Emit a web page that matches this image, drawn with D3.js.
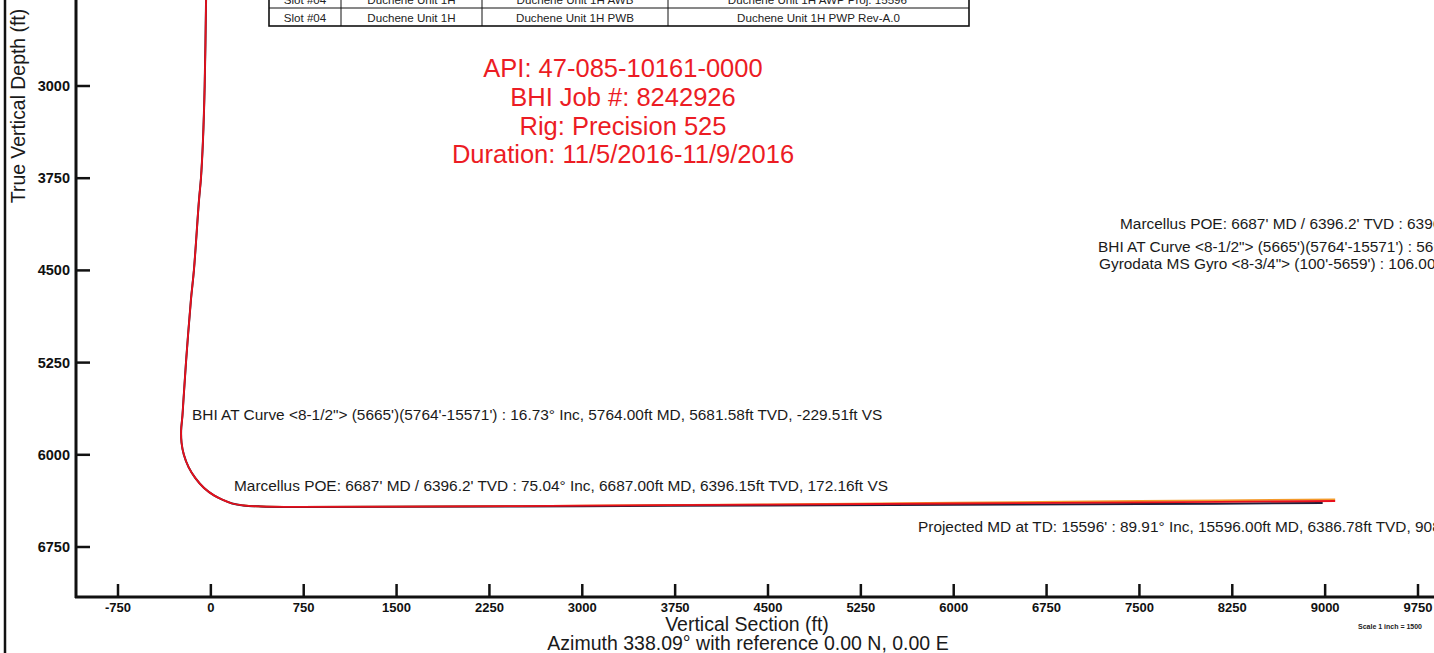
<!DOCTYPE html>
<html>
<head>
<meta charset="utf-8">
<script src="https://cdn.jsdelivr.net/npm/d3@7"></script>
<style>
  html, body { margin: 0; padding: 0; background: #fff; overflow: hidden; }
  svg { display: block; }
  text { font-family: "Liberation Sans", Arial, sans-serif; }
</style>
</head>
<body>
<div id="chart"></div>
<script>
// Well profile: vertical section vs true vertical depth

// axis ticks
var xTicks = [-750, 0, 750, 1500, 2250, 3000, 3750, 4500, 5250, 6000, 6750, 7500, 8250, 9000, 9750];
var yTicks = [2250, 3000, 3750, 4500, 5250, 6000, 6750];

// actual survey (red)
var actualVS  = [-38, -50, -64, -80, -96, -137, -161, -201, -221, -229.5, -240, -237, -218, -180, -125, -55, 25, 100, 172.2, 260, 400, 700, 1500, 3000, 4500, 6000, 7500, 9081];
var actualTVD = [2250, 3000, 3450, 3750, 3930, 4500, 4740, 5250, 5550, 5681.6, 5800, 5900, 6000, 6100, 6190, 6270, 6330, 6368, 6396.2, 6412, 6420, 6424, 6422, 6414, 6405, 6396, 6387, 6376];

// plan (dark)
var planVS  = [-38, -50, -64, -80, -96, -137, -161, -201, -221, -229.5, -240, -237, -218, -180, -125, -55, 25, 100, 172.2, 260, 400, 700, 1500, 3000, 4500, 6000, 7500, 8980];
var planTVD = [2250, 3000, 3450, 3750, 3930, 4500, 4740, 5250, 5550, 5681.6, 5800, 5900, 6000, 6100, 6190, 6270, 6330, 6368, 6396.2, 6412, 6420, 6424, 6423, 6418, 6412, 6406, 6400, 6393];

// second path (orange)
var orangeVS  = [260, 400, 700, 1500, 3000, 4500, 6000, 7500, 9081];
var orangeTVD = [6412, 6420, 6424, 6422, 6414, 6404, 6390, 6376, 6362];

// header table
var tableCols = [269, 341, 482, 668, 969];
var tableRows = [
  ["Slot #04", "Duchene Unit 1H", "Duchene Unit 1H AWB", "Duchene Unit 1H AWP Proj. 15596'"],
  ["Slot #04", "Duchene Unit 1H", "Duchene Unit 1H PWB", "Duchene Unit 1H PWP Rev-A.0"]
];

var titleLines = ["API: 47-085-10161-0000", "BHI Job #: 8242926", "Rig: Precision 525", "Duration: 11/5/2016-11/9/2016"];

var annotations = [
  {t: "BHI AT Curve <8-1/2\"> (5665')(5764'-15571') : 16.73° Inc, 5764.00ft MD, 5681.58ft TVD, -229.51ft VS", x: 192, y: 420},
  {t: "Marcellus POE: 6687' MD / 6396.2' TVD : 75.04° Inc, 6687.00ft MD, 6396.15ft TVD, 172.16ft VS", x: 234, y: 491},
  {t: "Projected MD at TD: 15596' : 89.91° Inc, 15596.00ft MD, 6386.78ft TVD, 9081.12ft VS", x: 918, y: 532},
  {t: "Marcellus POE: 6687' MD / 6396.2' TVD : 6396.15ft TVD", x: 1120, y: 229},
  {t: "BHI AT Curve <8-1/2\"> (5665')(5764'-15571') : 5665.00ft MD", x: 1098, y: 252},
  {t: "Gyrodata MS Gyro <8-3/4\"> (100'-5659') : 106.00ft MD", x: 1099, y: 269}
];

var W = 1434, H = 653;
var svg = d3.select("#chart").append("svg").attr("width", W).attr("height", H);

var x = d3.scaleLinear().domain([-750, 9750]).range([118, 1418]);
var y = d3.scaleLinear().domain([3000, 6750]).range([86, 547]);

var axisX = 76, axisY = 597;

// page border on the left
svg.append("line").attr("x1", 5).attr("x2", 5).attr("y1", 0).attr("y2", H)
  .attr("stroke", "#111").attr("stroke-width", 2.5);

// header table
var rowTop = [-10, 8, 26];
var tbl = svg.append("g");
tbl.append("rect").attr("x", tableCols[0]).attr("y", rowTop[0])
  .attr("width", tableCols[4] - tableCols[0]).attr("height", rowTop[2] - rowTop[0])
  .attr("fill", "none").attr("stroke", "#111").attr("stroke-width", 1.6);
tbl.append("line").attr("x1", tableCols[0]).attr("x2", tableCols[4]).attr("y1", rowTop[1]).attr("y2", rowTop[1])
  .attr("stroke", "#111").attr("stroke-width", 1);
tableCols.slice(1, 4).forEach(function(c){
  tbl.append("line").attr("x1", c).attr("x2", c).attr("y1", rowTop[0]).attr("y2", rowTop[2])
    .attr("stroke", "#111").attr("stroke-width", 1);
});
tableRows.forEach(function(row, r){
  row.forEach(function(cell, i){
    tbl.append("text")
      .attr("x", (tableCols[i] + tableCols[i + 1]) / 2)
      .attr("y", rowTop[r + 1] - 4.5)
      .attr("text-anchor", "middle")
      .attr("font-size", "11.6px")
      .attr("fill", "#222")
      .text(cell);
  });
});

// red title block
svg.append("g").selectAll("text").data(titleLines).enter().append("text")
  .attr("x", 623)
  .attr("y", function(d, i){ return 77 + i * 28.8; })
  .attr("text-anchor", "middle")
  .attr("font-size", "25.5px")
  .attr("fill", "#ec1c24")
  .text(function(d){ return d; });

// well paths
svg.append("clipPath").attr("id", "plotClip").append("rect")
  .attr("x", axisX + 1).attr("y", 0).attr("width", W - axisX).attr("height", axisY - 1);
var plot = svg.append("g").attr("clip-path", "url(#plotClip)");

var line = d3.line()
  .x(function(d){ return x(d[0]); })
  .y(function(d){ return y(d[1]); })
  .curve(d3.curveCatmullRom.alpha(0.5));

function zipPts(a, b){ return a.map(function(v, i){ return [v, b[i]]; }); }

plot.append("path").datum(zipPts(orangeVS, orangeTVD)).attr("d", line)
  .attr("fill", "none").attr("stroke", "#f39a2a").attr("stroke-width", 1.8);
plot.append("path").datum(zipPts(planVS, planTVD)).attr("d", line)
  .attr("fill", "none").attr("stroke", "#1f1f3a").attr("stroke-width", 2);
plot.append("path").datum(zipPts(actualVS, actualTVD)).attr("d", line)
  .attr("fill", "none").attr("stroke", "#e8101c").attr("stroke-width", 1.8);

// annotations
svg.append("g").selectAll("text").data(annotations).enter().append("text")
  .attr("x", function(d){ return d.x; })
  .attr("y", function(d){ return d.y; })
  .attr("font-size", "15.4px")
  .attr("fill", "#1a1a1a")
  .text(function(d){ return d.t; });

// axes
svg.append("line").attr("x1", axisX).attr("x2", axisX).attr("y1", 0).attr("y2", axisY + 1)
  .attr("stroke", "#111").attr("stroke-width", 3);
svg.append("line").attr("x1", axisX - 1).attr("x2", W).attr("y1", axisY).attr("y2", axisY)
  .attr("stroke", "#111").attr("stroke-width", 3);

var xt = svg.append("g").selectAll("g").data(xTicks).enter().append("g");
xt.append("line")
  .attr("x1", function(d){ return x(d); }).attr("x2", function(d){ return x(d); })
  .attr("y1", axisY - 13).attr("y2", axisY)
  .attr("stroke", "#111").attr("stroke-width", 2.5);
xt.append("text")
  .attr("x", function(d){ return x(d); })
  .attr("y", axisY + 15)
  .attr("text-anchor", "middle")
  .attr("font-size", "13px").attr("font-weight", "bold")
  .attr("fill", "#111")
  .text(function(d){ return d; });

var yt = svg.append("g").selectAll("g").data(yTicks).enter().append("g");
yt.append("line")
  .attr("x1", axisX).attr("x2", axisX + 14)
  .attr("y1", function(d){ return y(d); }).attr("y2", function(d){ return y(d); })
  .attr("stroke", "#111").attr("stroke-width", 2.5);
yt.append("text")
  .attr("x", axisX - 6)
  .attr("y", function(d){ return y(d) + 5; })
  .attr("text-anchor", "end")
  .attr("font-size", "14.5px").attr("font-weight", "bold")
  .attr("fill", "#111")
  .text(function(d){ return d; });

// axis titles
svg.append("text")
  .attr("transform", "translate(25,106) rotate(-90)")
  .attr("text-anchor", "middle")
  .attr("font-size", "19.4px")
  .attr("fill", "#1a1a1a")
  .text("True Vertical Depth (ft)");
svg.append("text")
  .attr("x", 747).attr("y", 631)
  .attr("text-anchor", "middle")
  .attr("font-size", "19.5px")
  .attr("fill", "#1a1a1a")
  .text("Vertical Section (ft)");
svg.append("text")
  .attr("x", 748).attr("y", 650)
  .attr("text-anchor", "middle")
  .attr("font-size", "19.5px")
  .attr("fill", "#1a1a1a")
  .text("Azimuth 338.09° with reference 0.00 N, 0.00 E");
svg.append("text")
  .attr("x", 1390).attr("y", 629)
  .attr("text-anchor", "middle")
  .attr("font-size", "7px").attr("font-weight", "bold")
  .attr("fill", "#222")
  .text("Scale 1 inch = 1500");
</script>
</body>
</html>
